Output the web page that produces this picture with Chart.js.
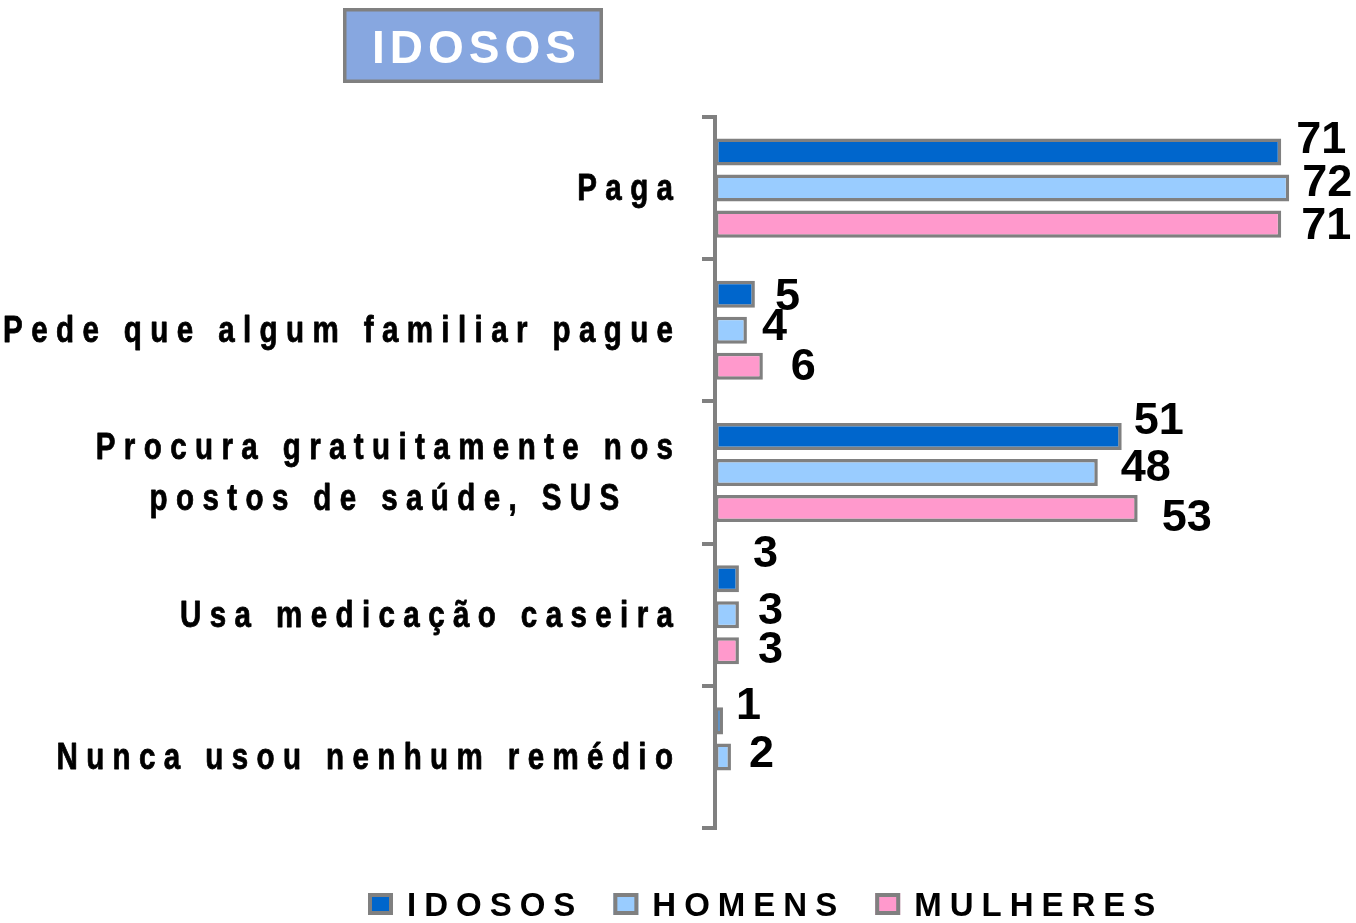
<!DOCTYPE html>
<html><head><meta charset="utf-8">
<script src="https://cdn.jsdelivr.net/npm/chart.js@4.4.0/dist/chart.umd.min.js"></script>
<style>html,body{margin:0;padding:0;background:#fff;}canvas{display:block}</style>
</head><body>
<canvas id="c" width="1356" height="923"></canvas>
<script>
// ---- data ----
const categories = [
  ['Paga'],
  ['Pede que algum familiar pague'],
  ['Procura gratuitamente nos', 'postos de saúde, SUS'],
  ['Usa medicação caseira'],
  ['Nunca usou nenhum remédio']
];
const seriesNames = ['IDOSOS', 'HOMENS', 'MULHERES'];
const idosos   = [71, 5, 51, 3, 1];
const homens   = [72, 4, 48, 3, 2];
const mulheres = [71, 6, 53, 3, null];
const titleText = 'IDOSOS';
const xMin = 0, xMax = 80;

// ---- styles ----
const colors = ['#0066CC', '#99CCFF', '#FF99CC'];
const gray = '#808080';
// label nudges [dx, dy] relative to bar end / bar centre
const labelNudges = [
  [[15,-11],[20,3],[12,-15],[14,-24],[13,-14]],
  [[13,-5],[15,-3],[23,-4],[19,-3],[18,-2]],
  [[20,2],[28,1],[24,10],[19,0],[0,0]]
];

// font detection: narrow available?
const mctx = document.createElement('canvas').getContext('2d');
function mw(f){ mctx.font = f; return mctx.measureText('Pede que algum familiar pague').width; }
const hasNarrow = Math.abs(mw('bold 40px "Liberation Sans Narrow", monospace') - mw('bold 40px monospace')) > 1;
const NARROW_SCALE = 0.82;

function setFont(ctx, size, spacing, narrow) {
  let sp = spacing, s = 1;
  if (!narrow) ctx.font = 'bold ' + size + 'px "Liberation Sans", Arial, sans-serif';
  else if (hasNarrow) ctx.font = 'bold ' + size + 'px "Liberation Sans Narrow"';
  else { ctx.scale(NARROW_SCALE, 1); ctx.font = 'bold ' + size + 'px "Liberation Sans", Arial, sans-serif'; sp = spacing / NARROW_SCALE; s = NARROW_SCALE; }
  ctx.letterSpacing = sp + 'px';
  return { sp, s };
}
function drawSpaced(ctx, text, x, y, align, size, spacing, narrow, weight) {
  ctx.save();
  ctx.translate(x, y);
  const { sp, s } = setFont(ctx, size, spacing, narrow);
  ctx.fillStyle = '#000';
  ctx.strokeStyle = '#000';
  ctx.lineWidth = weight || 0;
  ctx.lineJoin = 'round';
  ctx.textBaseline = 'alphabetic';
  ctx.textAlign = 'left';
  const w = ctx.measureText(text).width - sp;
  const sx = align === 'right' ? -w : (align === 'center' ? -w / 2 : 0);
  ctx.fillText(text, sx, 0);
  if (weight) ctx.strokeText(text, sx, 0);
  ctx.restore();
  return w * s;
}
function spacedWidth(ctx, text, size, spacing, narrow) {
  ctx.save();
  const { sp, s } = setFont(ctx, size, spacing, narrow);
  const w = (ctx.measureText(text).width - sp) * s;
  ctx.restore();
  return w;
}

const decorPlugin = {
  id: 'decor',
  beforeDraw(chart) {
    const ctx = chart.ctx;
    ctx.save();
    ctx.fillStyle = '#fff';
    ctx.fillRect(0, 0, chart.width, chart.height);
    // title box
    ctx.fillStyle = '#87A7E0';
    ctx.fillRect(343, 8, 260, 75);
    ctx.strokeStyle = gray; ctx.lineWidth = 3.5;
    ctx.strokeRect(344.75, 9.75, 256.5, 71.5);
    ctx.font = 'bold 46px "Liberation Sans", Arial, sans-serif';
    ctx.letterSpacing = '5px';
    ctx.fillStyle = '#fff';
    ctx.textAlign = 'left'; ctx.textBaseline = 'alphabetic';
    const tw = ctx.measureText(titleText).width - 5;
    ctx.fillText(titleText, 474 - tw / 2, 63);
    ctx.restore();
  },
  afterDraw(chart) {
    const ctx = chart.ctx;
    const yScale = chart.scales.y;
    const labelRight = yScale.right - 42;
    // category labels
    categories.forEach((lines, i) => {
      const cy = yScale.getPixelForValue(i);
      const size = 36, sp = 8.4, lh = 51;
      const widths = lines.map(l => spacedWidth(ctx, l, size, sp, true));
      const W = Math.max(...widths);
      const cx = labelRight - W / 2;
      lines.forEach((l, k) => {
        const ly = cy + (k - (lines.length - 1) / 2) * lh + 12;
        if (lines.length === 1) drawSpaced(ctx, l, labelRight, ly, 'right', size, sp, true, 0.8);
        else drawSpaced(ctx, l, cx, ly, 'center', size, sp, true, 0.8);
      });
    });
    // legend
    let x = 368;
    chart.data.datasets.forEach((ds, i) => {
      ctx.save();
      ctx.fillStyle = ds.backgroundColor;
      ctx.fillRect(x, 893, 25, 22);
      ctx.strokeStyle = gray; ctx.lineWidth = 4;
      ctx.strokeRect(x + 2, 895, 21, 18);
      ctx.restore();
      const w = drawSpaced(ctx, ds.label, x + 39, 916, 'left', 33, 8, false, 0);
      x = x + 39 + w + 38;
    });
  },
  afterDatasetsDraw(chart) {
    const ctx = chart.ctx;
    ctx.save();
    ctx.font = 'bold 45px "Liberation Sans", Arial, sans-serif';
    ctx.letterSpacing = '0px';
    ctx.fillStyle = '#000';
    ctx.textAlign = 'left';
    ctx.textBaseline = 'middle';
    chart.data.datasets.forEach((ds, di) => {
      const meta = chart.getDatasetMeta(di);
      meta.data.forEach((el, j) => {
        const v = ds.data[j];
        if (v === null || v === undefined) return;
        const n = labelNudges[di][j];
        ctx.fillText(String(v), el.x + n[0], el.y + n[1]);
      });
    });
    ctx.restore();
  }
};

const seriesData = [idosos, homens, mulheres];
new Chart(document.getElementById('c'), {
  type: 'bar',
  data: {
    labels: categories.map(c => c.join(' ')),
    datasets: seriesNames.map((name, i) => ({
      label: name,
      data: seriesData[i],
      backgroundColor: colors[i],
      borderColor: gray,
      borderWidth: 3.5,
      borderSkipped: false,
      categoryPercentage: 0.76,
      barPercentage: 0.75
    }))
  },
  options: {
    indexAxis: 'y',
    responsive: false,
    animation: false,
    devicePixelRatio: 1,
    layout: { padding: { top: 117, right: 3, bottom: 95, left: 0 } },
    plugins: { legend: { display: false }, tooltip: { enabled: false }, title: { display: false } },
    scales: {
      x: { display: false, min: xMin, max: xMax },
      y: {
        position: 'left',
        afterFit(s) { s.width = 715; },
        ticks: { display: false },
        grid: { drawOnChartArea: false, drawTicks: true, tickLength: 13, color: gray, lineWidth: 4, offset: true },
        border: { display: true, color: gray, width: 4 }
      }
    }
  },
  plugins: [decorPlugin]
});
</script>
</body></html>
